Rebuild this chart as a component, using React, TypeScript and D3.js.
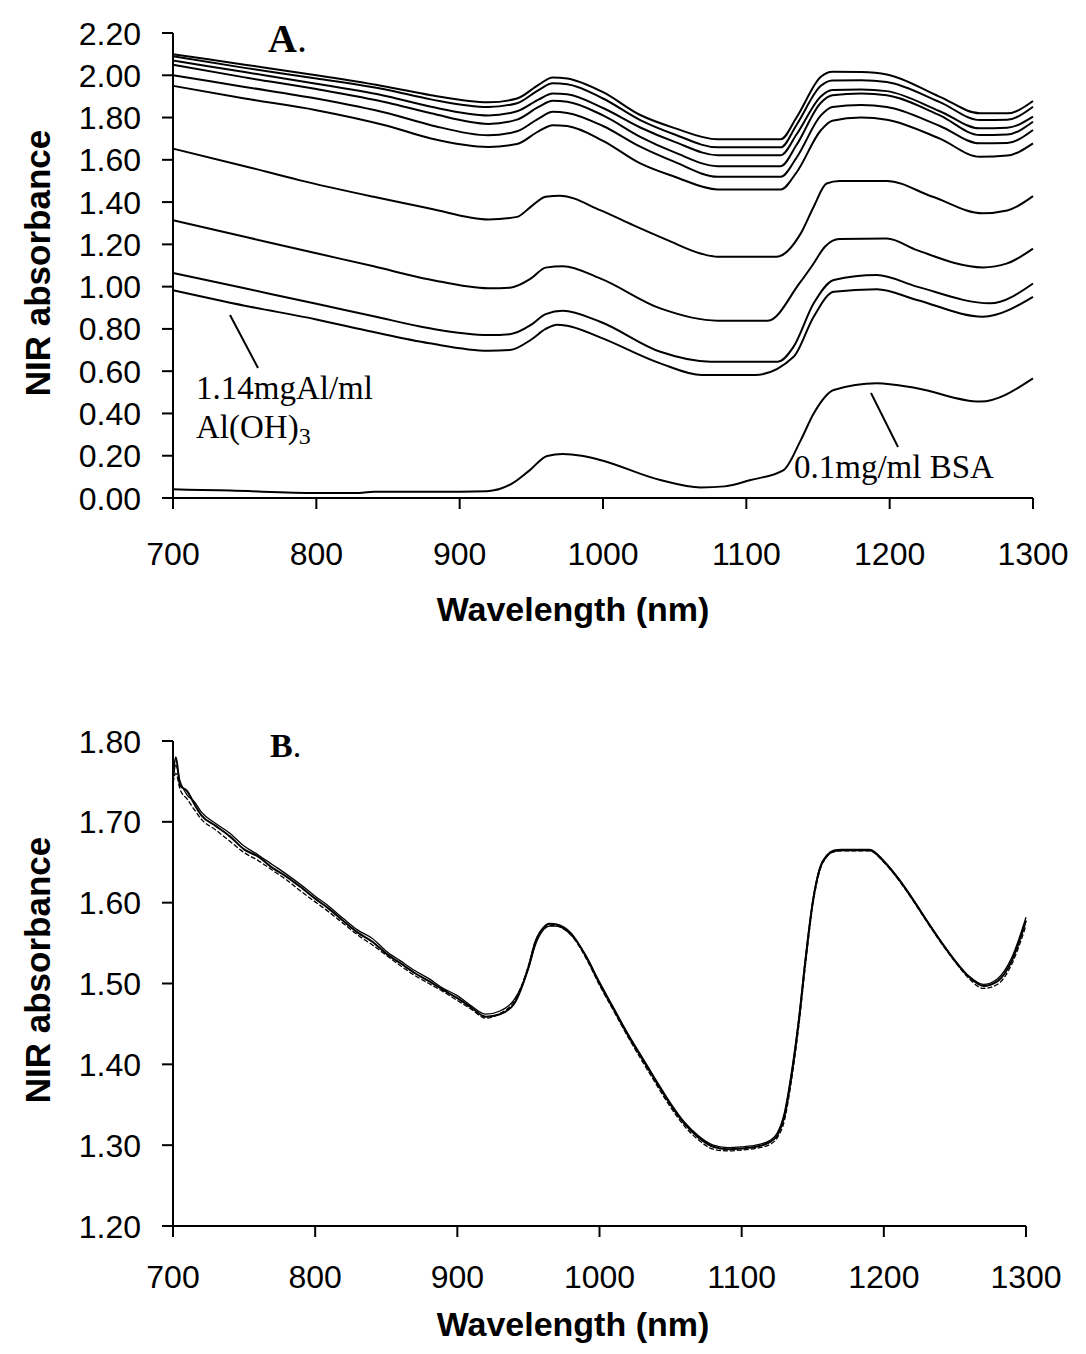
import React from "react";
import * as d3 from "d3";

// ---------- Panel A data ----------
const topGridWl = [700, 750, 800, 850, 880, 920, 940, 955, 965, 975, 1000, 1026, 1050, 1080, 1124, 1135, 1152, 1160, 1180, 1198, 1235, 1263, 1282, 1300];
const lineA1 = [2.10, 2.05, 2.00, 1.945, 1.906, 1.872, 1.89, 1.955, 1.99, 1.985, 1.92, 1.812, 1.75, 1.697, 1.697, 1.80, 1.993, 2.017, 2.015, 2.004, 1.898, 1.82, 1.82, 1.878];
const lineA2 = [2.09, 2.035, 1.985, 1.93, 1.886, 1.85, 1.868, 1.93, 1.962, 1.958, 1.89, 1.788, 1.72, 1.659, 1.659, 1.765, 1.95, 1.975, 1.977, 1.968, 1.873, 1.788, 1.79, 1.851];
const lineA3 = [2.07, 2.015, 1.96, 1.90, 1.851, 1.81, 1.83, 1.885, 1.914, 1.91, 1.845, 1.753, 1.685, 1.622, 1.622, 1.72, 1.90, 1.93, 1.933, 1.925, 1.83, 1.749, 1.752, 1.804];
const lineA4 = [2.05, 1.99, 1.935, 1.87, 1.82, 1.77, 1.79, 1.85, 1.879, 1.875, 1.81, 1.709, 1.635, 1.570, 1.570, 1.67, 1.87, 1.905, 1.914, 1.905, 1.81, 1.717, 1.72, 1.78];
const lineA5 = [2.00, 1.945, 1.89, 1.82, 1.764, 1.716, 1.735, 1.795, 1.827, 1.822, 1.76, 1.662, 1.59, 1.52, 1.52, 1.61, 1.81, 1.85, 1.859, 1.85, 1.76, 1.678, 1.68, 1.741];
const lineA6 = [1.95, 1.89, 1.835, 1.76, 1.701, 1.661, 1.675, 1.735, 1.764, 1.76, 1.69, 1.583, 1.52, 1.46, 1.46, 1.54, 1.74, 1.785, 1.80, 1.79, 1.70, 1.614, 1.62, 1.678];

const line7Wl = [700, 750, 788, 840, 879, 920, 940, 950, 960, 970, 998, 1021, 1045, 1068, 1080, 1121, 1138, 1147, 1156, 1165, 1198, 1230, 1265, 1282, 1300];
const lineA7 = [1.653, 1.57, 1.504, 1.425, 1.37, 1.318, 1.33, 1.38, 1.425, 1.43, 1.362, 1.291, 1.22, 1.157, 1.141, 1.141, 1.252, 1.378, 1.488, 1.50, 1.50, 1.425, 1.347, 1.36, 1.428];

const line8Wl = [700, 750, 800, 840, 879, 920, 935, 950, 960, 972, 998, 1040, 1080, 1115, 1137, 1146, 1155, 1165, 1198, 1219, 1265, 1282, 1300];
const lineA8 = [1.314, 1.236, 1.158, 1.096, 1.034, 0.992, 0.995, 1.04, 1.09, 1.097, 1.039, 0.897, 0.839, 0.839, 1.015, 1.10, 1.19, 1.225, 1.228, 1.173, 1.091, 1.11, 1.18];

const line9Wl = [700, 750, 800, 840, 879, 920, 935, 950, 960, 972, 998, 1040, 1075, 1122, 1133, 1147, 1161, 1191, 1219, 1270, 1300];
const lineA9 = [1.065, 0.992, 0.919, 0.86, 0.803, 0.771, 0.775, 0.82, 0.87, 0.886, 0.834, 0.692, 0.645, 0.645, 0.716, 0.921, 1.031, 1.055, 1.0, 0.921, 1.015];

const line10Wl = [700, 750, 800, 840, 879, 920, 935, 950, 960, 968, 975, 998, 1040, 1069, 1106, 1133, 1147, 1161, 1191, 1219, 1265, 1300];
const lineA10 = [0.983, 0.91, 0.845, 0.785, 0.732, 0.697, 0.70, 0.75, 0.80, 0.82, 0.815, 0.76, 0.637, 0.582, 0.582, 0.668, 0.858, 0.976, 0.988, 0.937, 0.858, 0.952];

const bsaWl = [700, 720, 740, 800, 830, 840, 900, 919, 937, 949, 961, 972, 985, 998, 1040, 1068, 1085, 1103, 1126, 1138, 1147, 1161, 1191, 1219, 1263, 1300];
const bsaLine = [0.041, 0.038, 0.035, 0.024, 0.024, 0.03, 0.03, 0.032, 0.07, 0.132, 0.199, 0.208, 0.2, 0.18, 0.085, 0.05, 0.055, 0.085, 0.132, 0.274, 0.40, 0.511, 0.543, 0.519, 0.456, 0.566];

const aYTicks = [0, 0.2, 0.4, 0.6, 0.8, 1.0, 1.2, 1.4, 1.6, 1.8, 2.0, 2.2];
const xTicks = [700, 800, 900, 1000, 1100, 1200, 1300];

// ---------- Panel B data ----------
const bWl = [700, 702, 705, 710, 715, 720, 730, 740, 750, 760, 770, 780, 790, 800, 810, 820, 830, 840, 850, 860, 870, 880, 890, 900, 910, 920, 930, 940, 950, 955, 960, 965, 970, 980, 990, 1000, 1010, 1020, 1030, 1040, 1050, 1060, 1070, 1080, 1090, 1100, 1110, 1120, 1125, 1130, 1135, 1140, 1145, 1150, 1155, 1160, 1165, 1170, 1180, 1190, 1200, 1210, 1220, 1230, 1240, 1250, 1260, 1270, 1280, 1290, 1300];
const bMain = [1.755, 1.780, 1.745, 1.738, 1.722, 1.708, 1.695, 1.682, 1.666, 1.657, 1.643, 1.632, 1.619, 1.605, 1.592, 1.577, 1.563, 1.552, 1.537, 1.525, 1.513, 1.503, 1.492, 1.482, 1.470, 1.459, 1.462, 1.475, 1.520, 1.552, 1.568, 1.574, 1.573, 1.562, 1.535, 1.500, 1.468, 1.436, 1.407, 1.378, 1.350, 1.326, 1.309, 1.298, 1.295, 1.296, 1.298, 1.304, 1.312, 1.335, 1.385, 1.450, 1.530, 1.600, 1.642, 1.658, 1.664, 1.665, 1.665, 1.665, 1.651, 1.630, 1.605, 1.578, 1.552, 1.528, 1.508, 1.497, 1.503, 1.528, 1.578];
const bAlt1 = [1.748, 1.760, 1.740, 1.728, 1.715, 1.703, 1.690, 1.676, 1.662, 1.652, 1.640, 1.628, 1.614, 1.601, 1.588, 1.574, 1.560, 1.548, 1.535, 1.522, 1.510, 1.500, 1.490, 1.479, 1.468, 1.457, 1.463, 1.478, 1.522, 1.553, 1.568, 1.572, 1.571, 1.560, 1.533, 1.498, 1.466, 1.434, 1.404, 1.375, 1.347, 1.323, 1.306, 1.295, 1.293, 1.294, 1.296, 1.301, 1.309, 1.33, 1.38, 1.445, 1.525, 1.597, 1.640, 1.657, 1.663, 1.664, 1.664, 1.664, 1.65, 1.629, 1.604, 1.577, 1.551, 1.527, 1.506, 1.494, 1.499, 1.524, 1.572];
const bAlt2 = [1.752, 1.770, 1.750, 1.733, 1.725, 1.712, 1.698, 1.686, 1.670, 1.659, 1.647, 1.635, 1.622, 1.608, 1.595, 1.580, 1.566, 1.556, 1.540, 1.528, 1.516, 1.506, 1.494, 1.485, 1.472, 1.462, 1.466, 1.480, 1.518, 1.548, 1.565, 1.571, 1.571, 1.560, 1.536, 1.502, 1.470, 1.438, 1.409, 1.380, 1.352, 1.328, 1.311, 1.300, 1.297, 1.298, 1.300, 1.306, 1.315, 1.34, 1.39, 1.455, 1.535, 1.603, 1.644, 1.659, 1.665, 1.666, 1.666, 1.666, 1.652, 1.631, 1.606, 1.579, 1.553, 1.529, 1.509, 1.499, 1.506, 1.532, 1.582];
const bYTicks = [1.2, 1.3, 1.4, 1.5, 1.6, 1.7, 1.8];

const SANS = "'Liberation Sans', Arial, sans-serif";
const SERIF = "'Liberation Serif', 'Times New Roman', serif";

function zip(w: number[], v: number[]): [number, number][] {
  return w.map((x, i) => [x, v[i]]);
}

function Axes({ x, y, yTicks, xLabelY, titleY, yTitleCenter }: any) {
  const [x0, x1] = x.range();
  const [yb, yt] = y.range();
  return (
    <g>
      <line x1={x0} x2={x0} y1={yt} y2={yb} stroke="#000" strokeWidth={2} />
      <line x1={x0 - 11} x2={x1} y1={yb} y2={yb} stroke="#000" strokeWidth={2} />
      {yTicks.map((t: number) => (
        <g key={"y" + t}>
          <line x1={x0 - 11} x2={x0} y1={y(t)} y2={y(t)} stroke="#000" strokeWidth={2} />
          <text x={x0 - 32} y={y(t)} dy="0.36em" textAnchor="end" fontFamily={SANS} fontSize={32}>
            {t.toFixed(2)}
          </text>
        </g>
      ))}
      {xTicks.map((t) => (
        <g key={"x" + t}>
          <line x1={x(t)} x2={x(t)} y1={yb} y2={yb + 11} stroke="#000" strokeWidth={2} />
          <text x={x(t)} y={xLabelY} textAnchor="middle" fontFamily={SANS} fontSize={32}>
            {t}
          </text>
        </g>
      ))}
      <text x={573} y={titleY} textAnchor="middle" fontFamily={SANS} fontSize={34} fontWeight="bold">
        Wavelength (nm)
      </text>
      <text
        transform={`translate(50,${yTitleCenter}) rotate(-90)`}
        textAnchor="middle"
        fontFamily={SANS}
        fontSize={35}
        fontWeight="bold"
      >
        NIR absorbance
      </text>
    </g>
  );
}

export default function App() {
  const xA = d3.scaleLinear().domain([700, 1300]).range([173, 1033]);
  const yA = d3.scaleLinear().domain([0, 2.2]).range([498, 33]);
  const xB = d3.scaleLinear().domain([700, 1300]).range([173, 1026]);
  const yB = d3.scaleLinear().domain([1.2, 1.8]).range([1226, 741]);

  const lineA = d3
    .line<[number, number]>()
    .x((d) => xA(d[0]))
    .y((d) => yA(d[1]))
    .curve(d3.curveMonotoneX);
  const lineB = d3
    .line<[number, number]>()
    .x((d) => xB(d[0]))
    .y((d) => yB(d[1]))
    .curve(d3.curveMonotoneX);

  const seriesA: [number, number][][] = [
    zip(topGridWl, lineA1),
    zip(topGridWl, lineA2),
    zip(topGridWl, lineA3),
    zip(topGridWl, lineA4),
    zip(topGridWl, lineA5),
    zip(topGridWl, lineA6),
    zip(line7Wl, lineA7),
    zip(line8Wl, lineA8),
    zip(line9Wl, lineA9),
    zip(line10Wl, lineA10),
    zip(bsaWl, bsaLine),
  ];

  return (
    <svg
      width={1086}
      height={1354}
      style={{ position: "absolute", left: 0, top: 0, background: "#fff" }}
    >
      <rect x={0} y={0} width={1086} height={1354} fill="#fff" />
      {/* Panel A */}
      <Axes x={xA} y={yA} yTicks={aYTicks} xLabelY={565} titleY={621} yTitleCenter={263} />
      {seriesA.map((s, i) => (
        <path key={i} d={lineA(s) || ""} fill="none" stroke="#000" strokeWidth={2} />
      ))}
      <text x={268} y={52} fontFamily={SERIF} fontSize={40} fontWeight="bold">
        A<tspan fontWeight="normal">.</tspan>
      </text>
      <line x1={230} y1={315} x2={258} y2={368} stroke="#000" strokeWidth={2} />
      <text x={196} y={399} fontFamily={SERIF} fontSize={33}>1.14mgAl/ml</text>
      <text x={196} y={438} fontFamily={SERIF} fontSize={33}>
        Al(OH)<tspan fontSize={24} dy={6}>3</tspan>
      </text>
      <line x1={871} y1={393} x2={898} y2={447} stroke="#000" strokeWidth={2} />
      <text x={794} y={478} fontFamily={SERIF} fontSize={33}>0.1mg/ml BSA</text>

      {/* Panel B */}
      <Axes x={xB} y={yB} yTicks={bYTicks} xLabelY={1288} titleY={1336} yTitleCenter={970} />
      <path d={lineB(zip(bWl, bAlt1)) || ""} fill="none" stroke="#000" strokeWidth={1.3} strokeDasharray="5,2" />
      <path d={lineB(zip(bWl, bAlt2)) || ""} fill="none" stroke="#000" strokeWidth={1.3} />
      <path d={lineB(zip(bWl, bMain)) || ""} fill="none" stroke="#000" strokeWidth={2} />
      <text x={270} y={757} fontFamily={SERIF} fontSize={34} fontWeight="bold">
        B<tspan fontWeight="normal">.</tspan>
      </text>
    </svg>
  );
}
